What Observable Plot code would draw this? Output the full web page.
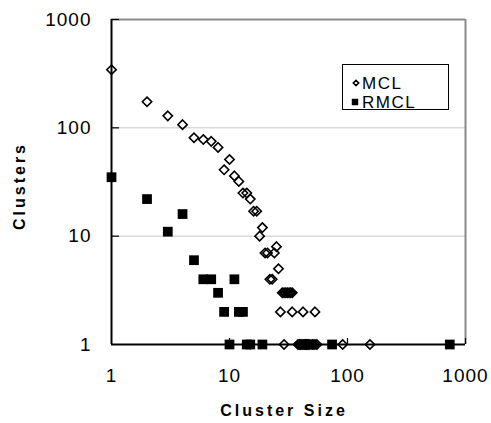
<!DOCTYPE html>
<html><head><meta charset="utf-8">
<script src="https://cdn.jsdelivr.net/npm/d3@7"></script>
<script src="https://cdn.jsdelivr.net/npm/@observablehq/plot@0.6"></script>
<style>body{margin:0;background:#fff}</style>
</head><body><div id="chart"></div>
<script>
// MCL series (cluster size, number of clusters)
const mclSize  = [1,2,3,4,5,6,7,8,9,10,11,12,13,14,15,16,17,18,19,20,21,22,23,24,25,26,
                  28,29,30,31,32,33,34,
                  27,34,42,53,
                  29,38,39,40,41,42,43,44,45,46,47,48,50,51,53,55,91,155];
const mclCount = [344,174,129,107,81,78,75,66,41,51,36,32,25,25,22,17,17,10,12,7,7,4,4,7,8,5,
                  3,3,3,3,3,3,3,
                  2,2,2,2,
                  1,1,1,1,1,1,1,1,1,1,1,1,1,1,1,1,1,1];
// RMCL series
const rmclSize  = [1,2,3,4,5,6,7,8,9,10,11,12,13,14,15,19,74,736];
const rmclCount = [35,22,11,16,6,4,4,3,2,1,4,2,2,1,1,1,1,1];

const tickValues = [1, 10, 100, 1000];
const innerTicks = [10, 100, 1000];
const seriesNames = ["MCL", "RMCL"];
const xTitle = "Cluster Size";
const yTitle = "Clusters";

const mcl = mclSize.map((s, i) => ({size: s, count: mclCount[i]}));
const rmcl = rmclSize.map((s, i) => ({size: s, count: rmclCount[i]}));

const font = "'Liberation Sans', Arial, sans-serif";

const plot = Plot.plot({
  width: 491, height: 423,
  marginLeft: 111, marginRight: 26, marginTop: 19, marginBottom: 79,
  style: {fontFamily: font, fontSize: "19px", background: "white", color: "black", overflow: "visible"},
  x: {type: "log", domain: [1, 1000]},
  y: {type: "log", domain: [1, 1000]},
  marks: [
    Plot.gridY([10, 100], {stroke: "#c4c4c4", strokeOpacity: 1, strokeWidth: 1}),
    Plot.ruleY([1000], {stroke: "#8a8a8a", strokeWidth: 2}),
    Plot.ruleX([1000], {stroke: "#8a8a8a", strokeWidth: 2}),
    Plot.tickY(innerTicks, {stroke: "black", strokeWidth: 1.2, insetRight: 346}),
    Plot.tickX(innerTicks, {stroke: "black", strokeWidth: 1.2, insetTop: 319}),
    Plot.ruleX([1], {stroke: "black", strokeWidth: 2}),
    Plot.ruleY([1], {stroke: "black", strokeWidth: 2}),
    Plot.axisY(tickValues, {tickSize: 0, tickPadding: 20, tickFormat: d => String(d), label: null}),
    Plot.axisX(tickValues, {tickSize: 0, tickPadding: 24, tickFormat: d => String(d), label: null}),
    Plot.dot(mcl, {x: "size", y: "count", symbol: "diamond2", r: 4.2, stroke: "black", strokeWidth: 1.6, fill: "none"}),
    Plot.dot(rmcl, {x: "size", y: "count", symbol: "square", r: 5.5, fill: "black", stroke: "none"})
  ]
});

const svg = d3.select(plot);
svg.selectAll("g[aria-label='y-axis tick label'] text, g[aria-label='x-axis tick label'] text")
  .style("letter-spacing", "1px");

// Legend
const lg = svg.append("g").attr("font-family", font).attr("font-size", 17).attr("text-anchor", "start");
lg.append("rect").attr("x", 342.5).attr("y", 64.5).attr("width", 106).attr("height", 45)
  .attr("fill", "white").attr("stroke", "black").attr("stroke-width", 1);
lg.append("path").attr("d", d3.symbol(d3.symbolDiamond2, 18)()).attr("transform", "translate(356,83)")
  .attr("fill", "none").attr("stroke", "black").attr("stroke-width", 1.6);
lg.append("path").attr("d", d3.symbol(d3.symbolSquare, 42)()).attr("transform", "translate(355,102)")
  .attr("fill", "black");
lg.append("text").attr("x", 362).attr("y", 89).attr("text-anchor", "start")
  .style("letter-spacing", "1.5px").text(seriesNames[0]);
lg.append("text").attr("x", 362).attr("y", 108).attr("text-anchor", "start")
  .style("letter-spacing", "1.5px").text(seriesNames[1]);

// Axis titles
svg.append("text").attr("x", 284).attr("y", 416).attr("text-anchor", "middle")
  .attr("font-family", font).attr("font-weight", "bold").attr("font-size", 16)
  .style("letter-spacing", "3px").text(xTitle);
svg.append("text").attr("transform", "translate(25,186) rotate(-90)").attr("text-anchor", "middle")
  .attr("font-family", font).attr("font-weight", "bold").attr("font-size", 16)
  .style("letter-spacing", "3px").text(yTitle);

document.getElementById("chart").appendChild(plot);
</script>
</body></html>
